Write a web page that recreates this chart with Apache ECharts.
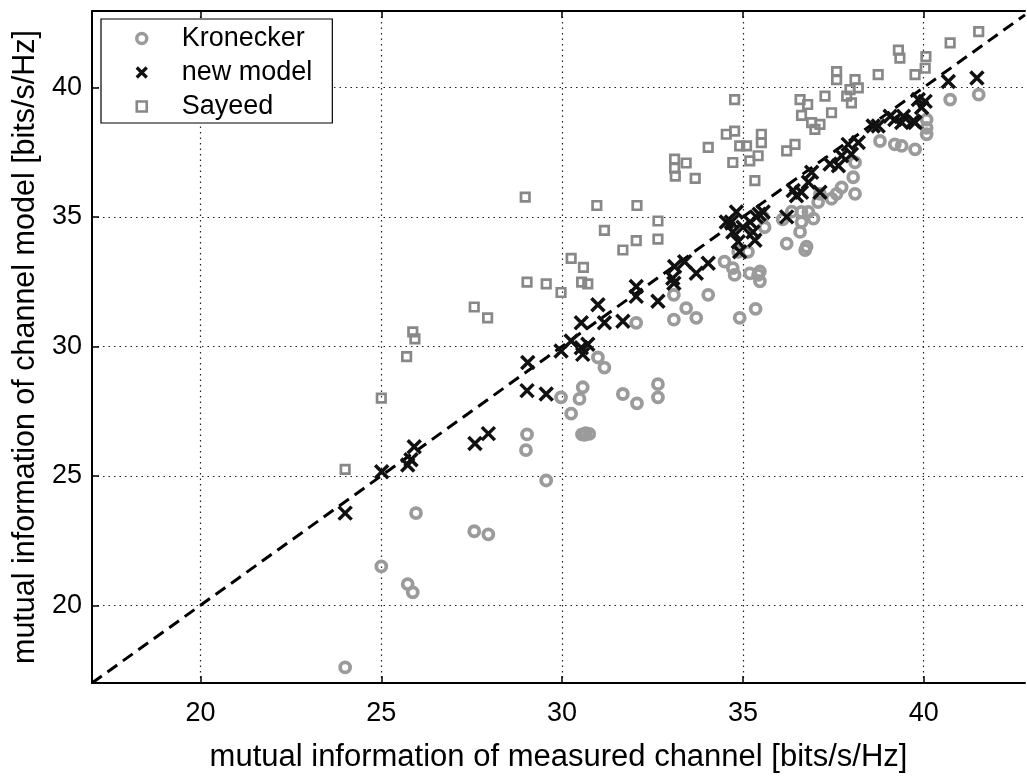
<!DOCTYPE html>
<html><head><meta charset="utf-8">
<script src="https://cdn.jsdelivr.net/npm/echarts@6/dist/echarts.min.js"></script>
<style>html,body{margin:0;padding:0;background:#fff}#c{width:1027px;height:778px}</style>
</head><body><div id="c"></div>
<script>
const xTicks = [20, 25, 30, 35, 40];
const yTicks = [20, 25, 30, 35, 40];
const xTitle = 'mutual information of measured channel [bits/s/Hz]';
const yTitle = 'mutual information of channel model [bits/s/Hz]';
const seriesNames = ['Kronecker', 'new model', 'Sayeed'];

const kronecker = [
  [24.0,17.6],[25.0,21.5],[25.73,20.82],[25.87,20.5],[25.96,23.56],[27.57,22.86],[27.96,22.74],
  [29.0,25.99],[29.03,26.6],[29.56,24.82],[29.97,28.03],[30.25,27.4],[30.48,27.97],[30.57,28.42],
  [30.55,26.6],[30.65,26.65],[30.75,26.62],[30.62,26.58],[30.99,29.57],[31.17,29.18],[31.68,28.16],
  [32.05,30.91],[32.07,27.8],[32.65,28.54],[32.65,28.03],[33.09,31.99],[33.09,31.03],[33.43,31.48],
  [33.71,31.1],[34.04,31.99],[34.91,31.1],[35.35,31.45],[34.49,33.27],[34.72,33.02],[34.77,32.76],
  [35.19,32.82],[35.47,32.89],[35.47,32.51],[35.14,33.65],[34.87,33.65],[35.42,32.76],[36.21,33.97],
  [36.76,33.85],[36.72,33.72],[36.58,34.42],[36.62,34.8],[36.62,35.19],[36.81,35.19],[36.95,34.93],
  [37.08,35.57],[37.13,35.89],[37.45,35.7],[37.59,35.89],[37.73,36.14],[38.05,36.53],[38.1,37.1],
  [38.1,35.89],[38.79,37.93],[39.2,37.8],[39.39,37.74],[39.76,37.61],[40.08,38.19],[40.08,38.44],
  [40.08,38.76],[40.73,39.53],[41.52,39.72],[35.6,34.6],[35.55,35.0],[36.1,34.9],[36.35,35.2]
];

const newModel = [
  [24.0,23.56],[25.01,25.16],[25.73,25.42],[25.82,25.62],[25.91,26.12],[27.59,26.25],[27.96,26.63],
  [29.03,28.29],[29.05,29.38],[29.56,28.16],[29.97,29.82],[30.25,30.21],[30.53,29.95],[30.57,29.69],
  [30.71,30.08],[30.53,30.91],[30.99,31.61],[31.17,30.91],[31.68,30.97],[32.05,32.31],[32.05,31.93],
  [32.65,31.74],[33.06,32.63],[33.09,32.44],[33.11,33.08],[33.39,33.27],[33.71,32.82],[34.04,33.21],
  [34.91,33.65],[34.68,34.8],[34.54,34.8],[34.72,34.42],[34.87,34.04],[35.33,34.1],[35.28,34.42],
  [34.82,35.19],[35.37,35.0],[35.56,35.19],[35.0,34.6],[35.2,34.8],[35.45,35.1],[36.21,35.0],
  [36.39,36.02],[36.48,35.82],[36.62,35.95],[36.81,36.34],[36.9,36.72],[37.13,35.95],[37.41,37.04],
  [37.64,36.97],[37.73,37.36],[38.0,37.42],[38.19,37.87],[37.91,37.8],[38.6,38.51],[38.74,38.51],
  [39.07,38.89],[39.2,38.76],[39.39,38.64],[39.44,38.89],[39.71,38.7],[39.76,38.64],[39.85,39.53],
  [39.94,39.22],[40.04,39.46],[40.68,40.23],[41.47,40.36]
];

const sayeed = [
  [24.0,25.25],[25.0,28.0],[25.7,29.6],[25.87,30.56],[25.93,30.29],[27.57,31.52],[27.94,31.1],
  [28.98,35.76],[29.03,32.48],[29.56,32.41],[29.97,32.08],[30.25,33.4],[30.59,33.05],[30.54,32.48],
  [30.71,32.41],[30.96,35.44],[31.17,34.48],[31.68,33.72],[32.05,34.08],[32.07,35.44],[32.65,34.84],
  [32.65,34.14],[33.11,37.23],[33.11,36.88],[33.43,37.08],[33.13,36.57],[33.68,36.49],[34.04,37.68],
  [34.54,38.19],[34.77,38.31],[34.77,39.53],[34.72,37.1],[34.91,37.74],[35.1,37.74],[35.19,37.16],
  [35.33,36.4],[35.42,37.36],[35.51,38.19],[35.51,37.87],[36.21,37.55],[36.44,37.8],[36.58,39.53],
  [36.79,39.34],[36.62,38.92],[36.9,38.64],[36.99,38.38],[37.13,38.57],[37.27,39.66],[37.45,39.02],
  [37.59,40.61],[37.59,40.3],[37.87,39.66],[37.96,39.91],[38.0,39.4],[38.1,40.3],[38.19,39.98],
  [38.74,40.49],[39.3,41.44],[39.34,41.13],[39.76,40.49],[40.04,40.74],[40.06,41.19],[40.73,41.72],
  [41.52,42.15]
];

const refLine = [[17, 17], [42.8, 42.8]];

const FONT = '"Liberation Sans", Arial, sans-serif';
const chart = echarts.init(document.getElementById('c'), null, {renderer: 'canvas'});
const crossPath = 'path://M0,0L10,10M10,0L0,10';
const CIRCLE_C = '#9b9b9b', CROSS_C = '#111', SQUARE_C = '#888';

chart.setOption({
  backgroundColor: '#fff',
  animation: false,
  textStyle: {fontFamily: FONT},
  grid: {left: 92, right: 2, top: 11, bottom: 90, containLabel: false},
  legend: {
    data: [
      {name: seriesNames[0], icon: 'circle', itemStyle: {color: 'rgba(255,255,255,0)', borderColor: CIRCLE_C, borderWidth: 3.5}},
      {name: seriesNames[1], icon: crossPath, itemStyle: {color: 'rgba(255,255,255,0)', borderColor: CROSS_C, borderWidth: 3.2}},
      {name: seriesNames[2], icon: 'rect', itemStyle: {color: 'rgba(255,255,255,0)', borderColor: SQUARE_C, borderWidth: 2.6}}
    ],
    orient: 'vertical',
    left: 101, top: 19,
    padding: [6, 20, 3, 34],
    itemWidth: 10, itemHeight: 10, itemGap: 7,
    backgroundColor: '#fff',
    borderColor: '#000', borderWidth: 1.2,
    textStyle: {fontSize: 27, color: '#000', fontFamily: FONT, lineHeight: 26, padding: [0, 0, 0, 30]},
    selectedMode: false
  },
  xAxis: [{
    type: 'value', min: 17, max: 42.8, position: 'bottom',
    axisLine: {show: true, onZero: false, lineStyle: {color: '#000', width: 2}},
    axisTick: {show: true, inside: true, length: 7, customValues: xTicks, lineStyle: {color: '#000', width: 1.5}},
    axisLabel: {customValues: xTicks, fontSize: 27, color: '#000', margin: 17, fontFamily: FONT},
    splitLine: {show: true, lineStyle: {color: '#222', type: [1.5, 4], width: 1.2}},
    name: xTitle, nameLocation: 'middle', nameGap: 59,
    nameTextStyle: {fontSize: 31, color: '#000', fontFamily: FONT}
  }, {
    type: 'value', min: 17, max: 42.8, position: 'top',
    axisLine: {show: true, onZero: false, lineStyle: {color: '#000', width: 2}},
    axisTick: {show: true, inside: true, length: 7, customValues: xTicks, lineStyle: {color: '#000', width: 1.5}},
    axisLabel: {show: false},
    splitLine: {show: false}
  }],
  yAxis: [{
    type: 'value', min: 17, max: 42.95, position: 'left',
    axisLine: {show: true, onZero: false, lineStyle: {color: '#000', width: 2}},
    axisTick: {show: true, inside: true, length: 7, customValues: yTicks, lineStyle: {color: '#000', width: 1.5}},
    axisLabel: {customValues: yTicks, fontSize: 27, color: '#000', margin: 10, fontFamily: FONT},
    splitLine: {show: true, lineStyle: {color: '#222', type: [1.5, 4], width: 1.2}},
    name: yTitle, nameLocation: 'middle', nameGap: 50,
    nameTextStyle: {fontSize: 30.5, color: '#000', fontFamily: FONT}
  }],
  series: [{
    name: 'identity', type: 'line', data: refLine, symbol: 'none', silent: true, z: 1,
    lineStyle: {color: '#000', width: 3, type: [12, 7]}
  }, {
    name: seriesNames[0], type: 'scatter', data: kronecker, symbol: 'circle', symbolSize: 10, z: 2,
    itemStyle: {color: 'rgba(255,255,255,0)', borderColor: CIRCLE_C, borderWidth: 3.8, opacity: 1}
  }, {
    name: seriesNames[1], type: 'scatter', data: newModel, symbol: crossPath, symbolSize: 13, z: 3,
    itemStyle: {color: 'rgba(255,255,255,0)', borderColor: CROSS_C, borderWidth: 3.5, opacity: 1}
  }, {
    name: seriesNames[2], type: 'scatter', data: sayeed, symbol: 'rect', symbolSize: 8.5, z: 4,
    itemStyle: {color: 'rgba(255,255,255,0)', borderColor: SQUARE_C, borderWidth: 2.7, opacity: 1}
  }]
});
</script></body></html>
